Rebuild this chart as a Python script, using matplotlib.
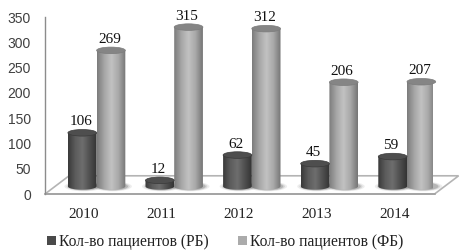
import numpy as np
import matplotlib
matplotlib.use('Agg')
import matplotlib.pyplot as plt
from matplotlib.patches import Ellipse, Polygon, PathPatch, Patch
from matplotlib.path import Path
from matplotlib.colors import LinearSegmentedColormap

years = ['2010', '2011', '2012', '2013', '2014']
rb = [106, 12, 62, 45, 59]
fb = [269, 315, 312, 206, 207]
yticks = [0, 50, 100, 150, 200, 250, 300, 350]
legend_labels = ['Кол-во пациентов (РБ)', 'Кол-во пациентов (ФБ)']

# fake 3d: bars stand in the middle of a sloped floor
depth_x = 0.31
depth_y = 36
base = 15
w = 0.37
eh = 13

fig = plt.figure(figsize=(4.62, 2.5), dpi=100)
ax = fig.add_axes([45 / 462, (250 - 194) / 250, 388 / 462, 177 / 250])
ax.set_xlim(0, 5)
ax.set_ylim(0, 350)

for s in ['top', 'right', 'bottom']:
    ax.spines[s].set_visible(False)
ax.spines['left'].set_color('#8c8c8c')
ax.spines['left'].set_linewidth(1.0)

floor = Polygon([(0, 0), (5.02, 0), (5.02 + depth_x, depth_y), (depth_x, depth_y)], closed=True,
                fc='white', ec='#b4b4b4', lw=1.2, clip_on=False, zorder=1)
ax.add_patch(floor)
ax.plot([0, 5.02], [0, 0], color='#a0a0a0', lw=1.2, clip_on=False, zorder=1.5)


def cylinder(xc, val, cols, top_col, lab):
    h = base + val
    x0, x1 = xc - w / 2, xc + w / 2
    # soft shadow on the floor
    for k, a in zip([1.35, 1.2, 1.08], [0.10, 0.15, 0.25]):
        ax.add_patch(Ellipse((xc + 0.02, base), w * k, eh * k * 1.1, fc='#555555', ec='none',
                             alpha=a, zorder=2, clip_on=False))
    cmap = LinearSegmentedColormap.from_list('c', cols)
    grad = np.linspace(0, 1, 64).reshape(1, -1)
    im = ax.imshow(grad, extent=[x0, x1, base - eh, h], cmap=cmap, aspect='auto', zorder=3,
                   interpolation='bilinear')
    # clip the gradient to the side of the cylinder, round at the bottom
    t = np.linspace(np.pi, 2 * np.pi, 30)
    verts = [(xc + w / 2 * np.cos(a), base + eh / 2 * np.sin(a)) for a in t]
    verts += [(x1, h), (x0, h), verts[0]]
    clip = PathPatch(Path(verts), transform=ax.transData, fc='none', ec='none')
    ax.add_patch(clip)
    im.set_clip_path(clip)
    ax.add_patch(Ellipse((xc, h), w, eh, fc=top_col, ec=cols[0], lw=0.5, zorder=4, clip_on=False))
    ax.text(xc - 0.02, h + 9, str(lab), ha='center', va='bottom', fontsize=11,
            family='Liberation Serif', color='#111111', zorder=5, clip_on=False)


rb_cols = ['#3a3a3a', '#5c5c5c', '#6e6e6e', '#505050', '#333333']
fb_cols = ['#7c7c7c', '#a6a6a6', '#c2c2c2', '#a8a8a8', '#767676']
# rb in front of fb is not needed, they only touch
for i in range(len(years)):
    xc = i + 0.5 + 0.165
    cylinder(xc + 0.185, fb[i], fb_cols, '#858585', fb[i])
    cylinder(xc - 0.185, rb[i], rb_cols, '#4e4e4e', rb[i])

ax.set_xlim(0, 5)
ax.set_ylim(0, 350)
ax.set_yticks(yticks)
ax.set_yticklabels([str(v) for v in yticks], family='Liberation Sans', fontsize=10, color='#404040')
ax.set_xticks(np.arange(len(years)) + 0.5)
ax.set_xticklabels(years, family='Liberation Serif', fontsize=11, color='#222222')
ax.tick_params(axis='y', length=0, pad=10)
ax.tick_params(axis='x', length=0, pad=10)

handles = [Patch(fc='#4a4a4a', ec='none'), Patch(fc='#ababab', ec='none')]
fig.legend(handles, legend_labels, ncol=2, frameon=False, loc='center',
           bbox_to_anchor=(225 / 462, 1 - 242 / 250),
           prop={'family': 'Liberation Serif', 'size': 11.2},
           handlelength=0.55, handleheight=0.6, handletextpad=0.2, columnspacing=1.9,
           labelcolor='#222222')

fig.savefig('out.png', dpi=100)
